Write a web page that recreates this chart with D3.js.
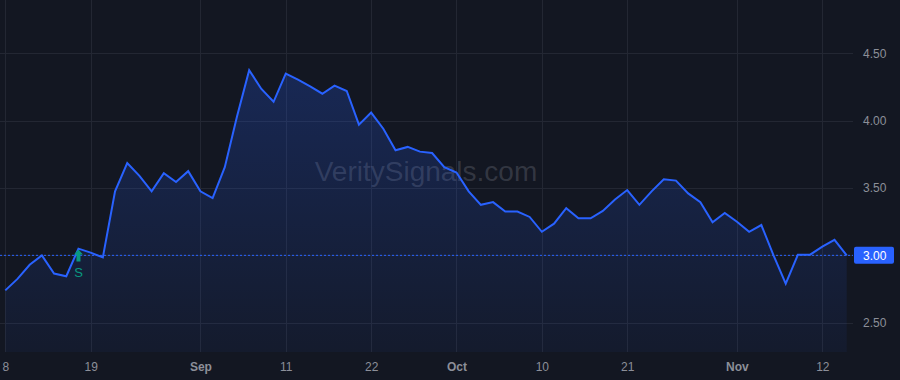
<!DOCTYPE html>
<html>
<head>
<meta charset="utf-8">
<script src="https://cdn.jsdelivr.net/npm/d3@7"></script>
<style>
  html, body { margin: 0; padding: 0; background: #131722; }
  text { font-family: "Liberation Sans", Arial, sans-serif; }
</style>
</head>
<body>
<div id="chart"></div>
<script>
// trading days shown on the chart (2025)
var dates = [
  "2025-08-08","2025-08-11","2025-08-12","2025-08-13","2025-08-14","2025-08-15",
  "2025-08-18","2025-08-19","2025-08-20","2025-08-21","2025-08-22",
  "2025-08-25","2025-08-26","2025-08-27","2025-08-28","2025-08-29",
  "2025-09-02","2025-09-03","2025-09-04","2025-09-05",
  "2025-09-08","2025-09-09","2025-09-10","2025-09-11","2025-09-12",
  "2025-09-15","2025-09-16","2025-09-17","2025-09-18","2025-09-19",
  "2025-09-22","2025-09-23","2025-09-24","2025-09-25","2025-09-26",
  "2025-09-29","2025-09-30","2025-10-01","2025-10-02","2025-10-03",
  "2025-10-06","2025-10-07","2025-10-08","2025-10-09","2025-10-10",
  "2025-10-13","2025-10-14","2025-10-15","2025-10-16","2025-10-17",
  "2025-10-20","2025-10-21","2025-10-22","2025-10-23","2025-10-24",
  "2025-10-27","2025-10-28","2025-10-29","2025-10-30","2025-10-31",
  "2025-11-03","2025-11-04","2025-11-05","2025-11-06","2025-11-07",
  "2025-11-10","2025-11-11","2025-11-12","2025-11-13","2025-11-14"
];

var prices = [
  2.74, 2.825, 2.93, 3.00, 2.865, 2.845, 3.05, 3.02, 2.985, 3.475,
  3.685, 3.59, 3.475, 3.61, 3.545, 3.625, 3.475, 3.425, 3.655, 4.03,
  4.375, 4.235, 4.14, 4.35, 4.305, 4.255, 4.20, 4.26, 4.22, 3.97,
  4.06, 3.94, 3.78, 3.805, 3.77, 3.76, 3.655, 3.615, 3.475, 3.375,
  3.395, 3.325, 3.325, 3.285, 3.175, 3.235, 3.35, 3.275, 3.275, 3.33,
  3.415, 3.485, 3.375, 3.475, 3.565, 3.555, 3.46, 3.395, 3.245, 3.315,
  3.25, 3.175, 3.225, 3.00, 2.79, 3.005, 3.005, 3.065, 3.115, 3.00
];

// x axis labels
var tickDates = ["2025-08-08","2025-08-19","2025-09-02","2025-09-11","2025-09-22",
                 "2025-10-01","2025-10-10","2025-10-21","2025-11-03","2025-11-12"];
var tickLabels = ["8","19","Sep","11","22","Oct","10","21","Nov","12"];
var monthTicks = ["Sep","Oct","Nov"];

// y axis ticks
var priceTicks = [2.5, 3.0, 3.5, 4.0, 4.5];
var lastPrice = 3.00;

// signal marker
var signalDate = "2025-08-18";
var signalLabel = "S";

var width = 900, height = 380,
    plotRight = 853, plotBottom = 352;

var svg = d3.select("#chart")
  .append("svg")
    .attr("width", width)
    .attr("height", height)
    .style("display", "block")
    .style("background-color", "#131722");

var x = d3.scalePoint()
  .domain(dates)
  .range([5.3, 846.7]);

var y = d3.scaleLinear()
  .domain([2.5, 4.5])
  .range([322.7, 53.3]);

var data = dates.map(function(d, i) { return {date: d, price: prices[i]}; });

// gradient for area
var defs = svg.append("defs");
var grad = defs.append("linearGradient")
  .attr("id", "areaGrad")
  .attr("gradientUnits", "userSpaceOnUse")
  .attr("x1", 0).attr("y1", y(4.5))
  .attr("x2", 0).attr("y2", plotBottom);
grad.append("stop").attr("offset", "0%").attr("stop-color", "#2962ff").attr("stop-opacity", 0.24);
grad.append("stop").attr("offset", "100%").attr("stop-color", "#2962ff").attr("stop-opacity", 0.05);

defs.append("clipPath").attr("id", "plotClip")
  .append("rect").attr("x", 0).attr("y", 0).attr("width", plotRight).attr("height", plotBottom);

// grid
var grid = svg.append("g");
grid.selectAll("line.h")
  .data(priceTicks)
  .enter().append("line")
    .attr("x1", 0).attr("x2", plotRight)
    .attr("y1", function(d) { return Math.round(y(d)) + 0.5; })
    .attr("y2", function(d) { return Math.round(y(d)) + 0.5; })
    .style("stroke", "#232733")
    .style("stroke-width", 1);
grid.selectAll("line.v")
  .data(tickDates)
  .enter().append("line")
    .attr("x1", function(d) { return Math.round(x(d)) + 0.5; })
    .attr("x2", function(d) { return Math.round(x(d)) + 0.5; })
    .attr("y1", 0).attr("y2", plotBottom)
    .style("stroke", "#232733")
    .style("stroke-width", 1);

// watermark
svg.append("text")
  .attr("x", 426)
  .attr("y", 181)
  .attr("text-anchor", "middle")
  .style("font-size", "28px")
  .style("fill", "#787b86")
  .style("fill-opacity", 0.32)
  .text("VeritySignals.com");

var plot = svg.append("g").attr("clip-path", "url(#plotClip)");

// area
plot.append("path")
  .datum(data)
  .attr("d", d3.area()
    .x(function(d) { return x(d.date); })
    .y0(plotBottom)
    .y1(function(d) { return y(d.price); }))
  .style("fill", "url(#areaGrad)");

// last price dashed line
plot.append("line")
  .attr("x1", 0).attr("x2", plotRight)
  .attr("y1", y(lastPrice)).attr("y2", y(lastPrice))
  .style("stroke", "#2962ff")
  .style("stroke-width", 1)
  .style("stroke-dasharray", "2,2");

// price line
plot.append("path")
  .datum(data)
  .attr("d", d3.line()
    .x(function(d) { return x(d.date); })
    .y(function(d) { return y(d.price); }))
  .style("fill", "none")
  .style("stroke", "#2962ff")
  .style("stroke-width", 2)
  .style("stroke-linejoin", "miter");

// signal marker
var sx = x(signalDate), sy = y(prices[dates.indexOf(signalDate)]);
svg.append("path")
  .attr("d", "M" + sx + "," + (sy + 1) +
             " L" + (sx + 4.5) + "," + (sy + 6) +
             " L" + (sx + 2) + "," + (sy + 6) +
             " L" + (sx + 2) + "," + (sy + 13) +
             " L" + (sx - 2) + "," + (sy + 13) +
             " L" + (sx - 2) + "," + (sy + 6) +
             " L" + (sx - 4.5) + "," + (sy + 6) + " Z")
  .style("fill", "#089981");
svg.append("text")
  .attr("x", sx)
  .attr("y", sy + 28)
  .attr("text-anchor", "middle")
  .style("font-size", "13px")
  .style("fill", "#089981")
  .text(signalLabel);

// x axis
var xAxis = svg.append("g")
  .attr("transform", "translate(0," + plotBottom + ")")
  .call(d3.axisBottom(x).tickValues(tickDates).tickSize(0).tickPadding(10)
    .tickFormat(function(d, i) { return tickLabels[i]; }));
xAxis.select(".domain").remove();
xAxis.selectAll("text")
  .style("font-size", "12px")
  .style("fill", "#8c8f99")
  .style("font-family", "'Liberation Sans', Arial, sans-serif")
  .style("font-weight", function(d, i) { return monthTicks.indexOf(tickLabels[i]) >= 0 ? "bold" : "normal"; });

// y axis (right)
var yAxis = svg.append("g")
  .attr("transform", "translate(" + plotRight + ",0)")
  .call(d3.axisRight(y).tickValues(priceTicks).tickSize(0).tickPadding(10)
    .tickFormat(d3.format(".2f")));
yAxis.select(".domain").remove();
yAxis.selectAll("text")
  .style("font-size", "12px")
  .style("fill", "#8c8f99")
  .style("font-family", "'Liberation Sans', Arial, sans-serif");
yAxis.selectAll(".tick")
  .filter(function(d) { return d === lastPrice; })
  .remove();

// last price label
svg.append("rect")
  .attr("x", plotRight + 1)
  .attr("y", y(lastPrice) - 8.5)
  .attr("width", 40)
  .attr("height", 17)
  .attr("rx", 2)
  .style("fill", "#2962ff");
svg.append("text")
  .attr("x", plotRight + 10)
  .attr("y", y(lastPrice))
  .attr("dy", "0.35em")
  .style("font-size", "12px")
  .style("fill", "#ffffff")
  .text(d3.format(".2f")(lastPrice));
</script>
</body>
</html>
